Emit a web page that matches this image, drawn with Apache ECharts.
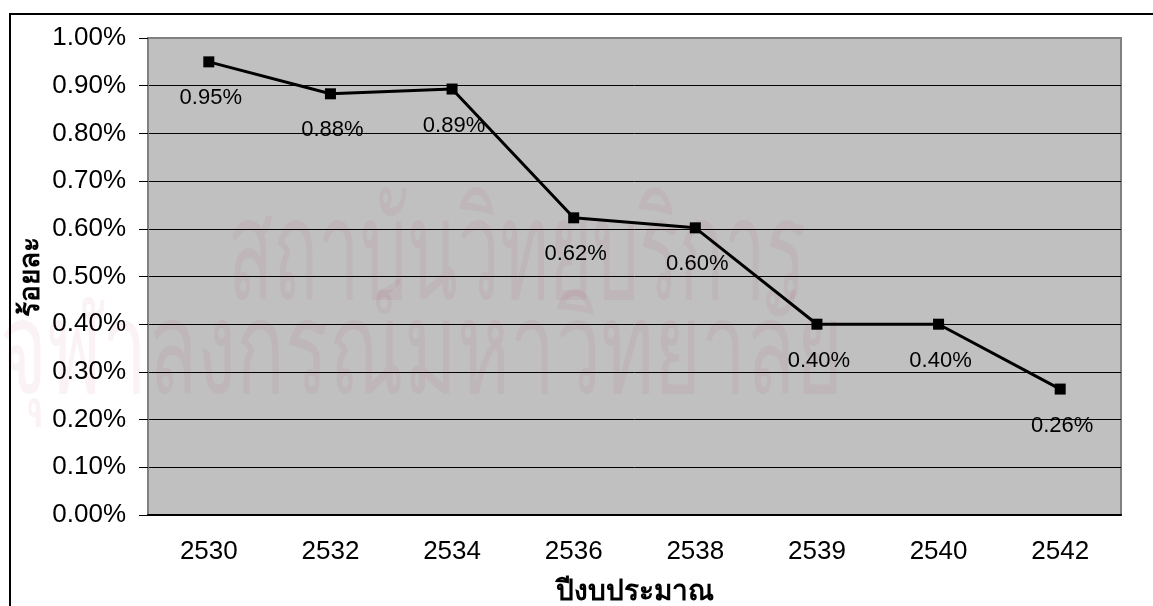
<!DOCTYPE html>
<html>
<head>
<meta charset="utf-8">
<script src="https://cdn.jsdelivr.net/npm/echarts@6/dist/echarts.min.js"></script>
<style>
  html, body { margin: 0; padding: 0; background: #fff; }
  #chart { width: 1153px; height: 606px; }
</style>
</head>
<body>
<div id="chart"></div>
<script>
// ปีงบประมาณ (budget years)
const years = ['2530', '2532', '2534', '2536', '2538', '2539', '2540', '2542'];
// ร้อยละ, values in percent
const rates = [0.95, 0.883, 0.893, 0.623, 0.602, 0.40, 0.40, 0.264];
const yTicks = [0, 0.1, 0.2, 0.3, 0.4, 0.5, 0.6, 0.7, 0.8, 0.9, 1.0];

const font = 'Liberation Sans, Arial, Helvetica, sans-serif';
const wmColor = 'rgba(150,0,50,0.05)';

const chart = echarts.init(document.getElementById('chart'));

chart.setOption({
    backgroundColor: '#ffffff',
    animation: false,
    grid: {
        left: 148,
        top: 38,
        right: 32,
        bottom: 91,
        outerBoundsMode: 'none',
        containLabel: false,
        show: true,
        backgroundColor: '#c0c0c0',
        borderColor: '#808080',
        borderWidth: 2
    },
    graphic: [
        // outer frame of the chart object
        {
            type: 'rect',
            z: -10,
            shape: { x: 10, y: 14, width: 1200, height: 700 },
            style: { fill: 'none', stroke: '#000', lineWidth: 2 }
        },
        // y axis title
        {
            type: 'text',
            x: 31, y: 277,
            rotation: Math.PI / 2,
            style: {
                text: 'ร้อยละ',
                font: 'bold 28px ' + font,
                fill: '#000',
                align: 'center',
                verticalAlign: 'middle'
            }
        },
        // faint watermark of the scanned page
        {
            type: 'text',
            z: 1,
            x: 228, y: 190,
            scaleX: 0.53,
            silent: true,
            style: {
                text: 'สถาบันวิทยบริการ',
                font: '140px sans-serif',
                fill: wmColor
            }
        },
        {
            type: 'text',
            z: 1,
            x: 0, y: 292,
            scaleX: 0.62,
            silent: true,
            style: {
                text: 'จุฬาลงกรณ์มหาวิทยาลัย',
                font: '130px sans-serif',
                fill: wmColor
            }
        }
    ],
    xAxis: {
        type: 'category',
        data: years,
        boundaryGap: true,
        name: 'ปีงบประมาณ',
        nameLocation: 'middle',
        nameGap: 63,
        nameTextStyle: { fontSize: 28, fontWeight: 'bold', color: '#000', fontFamily: font },
        axisLine: { lineStyle: { color: '#000', width: 2 } },
        axisTick: { alignWithLabel: false, length: 9, lineStyle: { color: '#000', width: 1 } },
        axisLabel: { fontSize: 26, color: '#000', fontFamily: font, margin: 24 },
        splitLine: { show: false }
    },
    yAxis: {
        type: 'value',
        min: 0,
        max: 1,
        interval: 0.1,
        axisLine: { show: true, lineStyle: { color: '#808080', width: 2 } },
        axisTick: { show: true, length: 9, lineStyle: { color: '#000' } },
        axisLabel: {
            fontSize: 26,
            color: '#000',
            fontFamily: font,
            margin: 22,
            formatter: v => {
                const t = yTicks.find(k => Math.abs(k - v) < 1e-9);
                return (t === undefined ? v : t).toFixed(2) + '%';
            }
        },
        splitLine: { show: true, showMaxLine: false, lineStyle: { color: '#000', width: 1 } }
    },
    series: [{
        type: 'line',
        data: rates,
        z: 5,
        symbol: 'rect',
        symbolSize: 11,
        itemStyle: { color: '#000' },
        lineStyle: { color: '#000', width: 3 },
        label: {
            show: true,
            position: 'bottom',
            distance: 20,
            offset: [2, 0],
            fontSize: 22,
            color: '#000',
            fontFamily: font,
            formatter: p => p.value.toFixed(2) + '%'
        }
    }]
});
</script>
</body>
</html>
